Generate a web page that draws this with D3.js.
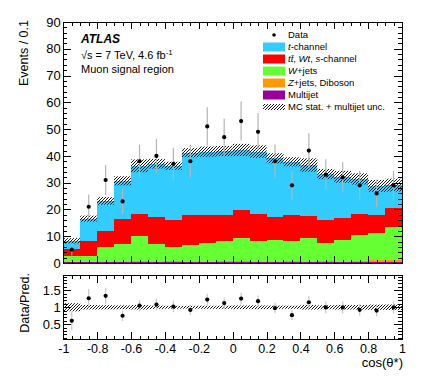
<!DOCTYPE html>
<html><head><meta charset="utf-8">
<script src="https://cdn.jsdelivr.net/npm/d3@7"></script>
<style>
body{margin:0;background:#fff}
text{font-family:"Liberation Sans",Arial,Helvetica,sans-serif;fill:#000}
</style>
</head><body>
<svg id="c" width="424" height="386"></svg>
<script>
// ---------- data ----------
const binLow  = [-1,-0.9,-0.8,-0.7,-0.6,-0.5,-0.4,-0.3,-0.2,-0.1,0,0.1,0.2,0.3,0.4,0.5,0.6,0.7,0.8,0.9];
const binHigh = [-0.9,-0.8,-0.7,-0.6,-0.5,-0.4,-0.3,-0.2,-0.1,0,0.1,0.2,0.3,0.4,0.5,0.6,0.7,0.8,0.9,1];
const multijet = [0.3,0.2,0.3,0.3,0.2,0.3,0.4,0.3,0.3,0.3,0.4,0.3,0.2,0.3,0.2,0.3,0.3,0.5,0.5,0.4];
const zjets    = [0.1,0.1,0.1,0.1,0.6,0.2,0.2,0.1,0.2,0.4,0.3,0.2,0.1,0.3,0.2,0.3,0.1,0.2,0.6,0.7];
const wjets    = [2.1,2.2,5.7,6.6,9.3,6.5,5.5,6.3,6.8,7.5,8.5,7.7,8.3,7.6,8.8,7.0,8.2,9.8,10.2,12.2];
const ttbar    = [2.6,5.8,5.8,9.6,8.2,10.1,10.0,11.2,10.6,9.7,10.6,10.1,8.7,9.7,8.3,8.5,8.1,7.8,6.6,7.1];
const tchan    = [3.2,8.3,11.3,14.1,18.0,20.0,20.2,23.3,23.7,23.9,22.4,23.3,21.8,19.9,19.1,17.1,15.5,13.1,10.9,8.7];
const mcUnc    = [1.0,1.1,1.4,1.7,2.4,1.8,1.5,1.7,1.9,1.9,2.3,2.3,1.9,1.7,2.5,1.9,2.2,2.1,2.2,2.4];
const dataVals = [5,21,31,23,38,40,37,38,51,47,53,49,38,29,42,33,32,29,26,29];

const xTickLabels = [-1,-0.8,-0.6,-0.4,-0.2,0,0.2,0.4,0.6,0.8,1];
const yTicks = [0,10,20,30,40,50,60,70,80,90];
const ratioTicks = [0.5,1,1.5];

const sampleKeys   = ["multijet","zjets","wjets","ttbar","tchan"];
const sampleColors = {multijet:"#990099", zjets:"#ff9900", wjets:"#66ff33", ttbar:"#ff0000", tchan:"#33ccff"};

// ---------- build table ----------
const rows = binLow.map((lo,i)=>({lo, hi:binHigh[i], multijet:multijet[i], zjets:zjets[i], wjets:wjets[i], ttbar:ttbar[i], tchan:tchan[i], unc:mcUnc[i], data:dataVals[i]}));
rows.forEach(r=>{ r.total = sampleKeys.reduce((s,k)=>s+r[k],0); });

const svg = d3.select("#c");
const FONT = '"Liberation Sans",Arial,Helvetica,sans-serif';

const x  = d3.scaleLinear().domain([-1,1]).range([63.3,402]);
const y  = d3.scaleLinear().domain([0,90]).range([263,22]);
const yr = d3.scaleLinear().domain([0.05,1.95]).range([339.5,275]);

const defs = svg.append("defs");
const pat = defs.append("pattern").attr("id","hatch").attr("patternUnits","userSpaceOnUse").attr("width",3).attr("height",3);
pat.append("path").attr("d","M-1,1 l2,-2 M0,3 l3,-3 M2,4 l2,-2").attr("stroke","#000").attr("stroke-width",0.9);
defs.append("clipPath").attr("id","mainclip").append("rect").attr("x",x(-1)).attr("y",y(90)).attr("width",x(1)-x(-1)).attr("height",y(0)-y(90));
defs.append("clipPath").attr("id","ratioclip").append("rect").attr("x",x(-1)).attr("y",yr(1.95)).attr("width",x(1)-x(-1)).attr("height",yr(0.05)-yr(1.95));

// ---------- main stack ----------
const stack = d3.stack().keys(sampleKeys)(rows);
const gMain = svg.append("g").attr("clip-path","url(#mainclip)");
stack.forEach(layer=>{
  gMain.append("g").selectAll("rect").data(layer).join("rect")
    .attr("x",d=>x(d.data.lo)).attr("width",d=>x(d.data.hi)-x(d.data.lo))
    .attr("y",d=>y(d[1])).attr("height",d=>Math.max(0,y(d[0])-y(d[1])))
    .attr("fill",sampleColors[layer.key]).attr("shape-rendering","crispEdges");
});
// uncertainty band
gMain.append("g").selectAll("rect").data(rows).join("rect")
  .attr("x",d=>x(d.lo)).attr("width",d=>x(d.hi)-x(d.lo))
  .attr("y",d=>y(d.total+d.unc)).attr("height",d=>y(d.total-d.unc)-y(d.total+d.unc))
  .attr("fill","url(#hatch)");
// data
const gData = svg.append("g");
gData.selectAll("line").data(rows).join("line")
  .attr("x1",d=>x((d.lo+d.hi)/2)).attr("x2",d=>x((d.lo+d.hi)/2))
  .attr("y1",d=>y(d.data-Math.sqrt(d.data))).attr("y2",d=>y(d.data+Math.sqrt(d.data)))
  .attr("stroke","#b4b4b4").attr("stroke-width",1.2);
gData.selectAll("circle").data(rows).join("circle")
  .attr("cx",d=>x((d.lo+d.hi)/2)).attr("cy",d=>y(d.data)).attr("r",2.1).attr("fill","#000");

// ---------- ratio ----------
const gRatio = svg.append("g").attr("clip-path","url(#ratioclip)");
gRatio.selectAll("rect").data(rows).join("rect")
  .attr("x",d=>x(d.lo)).attr("width",d=>x(d.hi)-x(d.lo))
  .attr("y",d=>yr(1+d.unc/d.total)).attr("height",d=>yr(1-d.unc/d.total)-yr(1+d.unc/d.total))
  .attr("fill","url(#hatch)");
gRatio.selectAll("line").data(rows).join("line")
  .attr("x1",d=>x((d.lo+d.hi)/2)).attr("x2",d=>x((d.lo+d.hi)/2))
  .attr("y1",d=>yr((d.data-Math.sqrt(d.data))/d.total)).attr("y2",d=>yr((d.data+Math.sqrt(d.data))/d.total))
  .attr("stroke","#c8c8c8").attr("stroke-width",1.2);
gRatio.selectAll("circle").data(rows).join("circle")
  .attr("cx",d=>x((d.lo+d.hi)/2)).attr("cy",d=>yr(d.data/d.total)).attr("r",2.1).attr("fill","#000");

// ---------- axes ----------
function styleAxis(g){ g.selectAll(".domain").remove(); g.selectAll("line").attr("stroke","#000").attr("shape-rendering","crispEdges"); g.selectAll("text").attr("font-family",FONT); }
const xMinor = d3.range(-1,1.0001,0.05);
const xMajor = xTickLabels;
const fmt = v => { const s = (+v.toFixed(2)).toString(); return s==="-0"?"0":s; };

function xAxes(yBottom,yTop,majLen,minLen,labels){
  svg.append("g").attr("transform",`translate(0,${yBottom})`).call(d3.axisBottom(x).tickValues(xMinor).tickSize(-minLen).tickFormat("")).call(styleAxis);
  const gb = svg.append("g").attr("transform",`translate(0,${yBottom})`).call(d3.axisBottom(x).tickValues(xMajor).tickSize(-majLen).tickPadding(5).tickFormat(labels?fmt:"")).call(styleAxis);
  gb.selectAll("text").attr("font-size",12.5);
  svg.append("g").attr("transform",`translate(0,${yTop})`).call(d3.axisTop(x).tickValues(xMinor).tickSize(-minLen).tickFormat("")).call(styleAxis);
  svg.append("g").attr("transform",`translate(0,${yTop})`).call(d3.axisTop(x).tickValues(xMajor).tickSize(-majLen).tickFormat("")).call(styleAxis);
}
xAxes(y(0),y(90),7,3.5,false);
xAxes(yr(0.05),yr(1.95),8,4,true);

// main y
const yMinor = d3.range(0,90.001,2);
svg.append("g").attr("transform",`translate(${x(-1)},0)`).call(d3.axisLeft(y).tickValues(yMinor).tickSize(-4).tickFormat("")).call(styleAxis);
const gyl = svg.append("g").attr("transform",`translate(${x(-1)},0)`).call(d3.axisLeft(y).tickValues(yTicks).tickSize(-8).tickPadding(2.5)).call(styleAxis);
gyl.selectAll("text").attr("font-size",13);
svg.append("g").attr("transform",`translate(${x(1)},0)`).call(d3.axisRight(y).tickValues(yMinor).tickSize(-4).tickFormat("")).call(styleAxis);
svg.append("g").attr("transform",`translate(${x(1)},0)`).call(d3.axisRight(y).tickValues(yTicks).tickSize(-8).tickFormat("")).call(styleAxis);

// ratio y
const rMinor = d3.range(0.1,1.9001,0.1);
svg.append("g").attr("transform",`translate(${x(-1)},0)`).call(d3.axisLeft(yr).tickValues(rMinor).tickSize(-4).tickFormat("")).call(styleAxis);
const gry = svg.append("g").attr("transform",`translate(${x(-1)},0)`).call(d3.axisLeft(yr).tickValues(ratioTicks).tickSize(-8).tickPadding(2.5).tickFormat(d=>String(d))).call(styleAxis);
gry.selectAll("text").attr("font-size",13);
svg.append("g").attr("transform",`translate(${x(1)},0)`).call(d3.axisRight(yr).tickValues(rMinor).tickSize(-4).tickFormat("")).call(styleAxis);
svg.append("g").attr("transform",`translate(${x(1)},0)`).call(d3.axisRight(yr).tickValues(ratioTicks).tickSize(-8).tickFormat("")).call(styleAxis);

// frames
svg.append("rect").attr("x",x(-1)).attr("y",y(90)).attr("width",x(1)-x(-1)).attr("height",y(0)-y(90)).attr("fill","none").attr("stroke","#000").attr("shape-rendering","crispEdges");
svg.append("rect").attr("x",x(-1)).attr("y",yr(1.95)).attr("width",x(1)-x(-1)).attr("height",yr(0.05)-yr(1.95)).attr("fill","none").attr("stroke","#000").attr("shape-rendering","crispEdges");

// axis titles
svg.append("text").attr("transform","translate(28,20) rotate(-90)").attr("text-anchor","end").attr("font-size",12.5).text("Events / 0.1");
svg.append("text").attr("transform","translate(29,273) rotate(-90)").attr("text-anchor","end").attr("font-size",12.5).text("Data/Pred.");
svg.append("text").attr("x",403).attr("y",367).attr("text-anchor","end").attr("font-size",13).text("cos(θ*)");

// ATLAS labels
svg.append("text").attr("x",81).attr("y",42.5).attr("font-size",12).attr("font-weight","bold").attr("font-style","italic").text("ATLAS");
const t2 = svg.append("text").attr("x",81).attr("y",59).attr("font-size",11);
t2.append("tspan").text("√s = 7 TeV, 4.6 fb");
t2.append("tspan").attr("dy",-4).attr("font-size",8).text("-1");
svg.append("text").attr("x",81).attr("y",72.5).attr("font-size",11).text("Muon signal region");

// legend
const legRows = [35,47,59,71,83,95,107];
const lg = svg.append("g");
const lx0 = 263, lw = 22, tx = 288, lfs = 9.5;
lg.append("circle").attr("cx",lx0+lw/2).attr("cy",legRows[0]).attr("r",1.8).attr("fill","#000");
const legendSamples = ["tchan","ttbar","wjets","zjets","multijet"];
legendSamples.forEach((k,i)=>{
  lg.append("rect").attr("x",lx0).attr("y",legRows[i+1]-4.5).attr("width",lw).attr("height",9).attr("fill",sampleColors[k]);
});
lg.append("rect").attr("x",lx0).attr("y",legRows[6]-3).attr("width",lw).attr("height",6).attr("fill","url(#hatch)");
function legText(i){ return lg.append("text").attr("x",tx).attr("y",legRows[i]).attr("dy","0.35em").attr("font-size",lfs); }
legText(0).text("Data");
const l1 = legText(1); l1.append("tspan").attr("font-style","italic").text("t"); l1.append("tspan").text("-channel");
const l2 = legText(2); l2.append("tspan").attr("font-style","italic").text("tt\u0304"); l2.append("tspan").text(",  "); l2.append("tspan").attr("font-style","italic").text("Wt"); l2.append("tspan").text(", "); l2.append("tspan").attr("font-style","italic").text("s"); l2.append("tspan").text("-channel");
const l3 = legText(3); l3.append("tspan").attr("font-style","italic").text("W"); l3.append("tspan").text("+jets");
const l4 = legText(4); l4.append("tspan").attr("font-style","italic").text("Z"); l4.append("tspan").text("+jets, Diboson");
legText(5).text("Multijet");
legText(6).text("MC stat. + multijet unc.");
</script>
</body></html>
